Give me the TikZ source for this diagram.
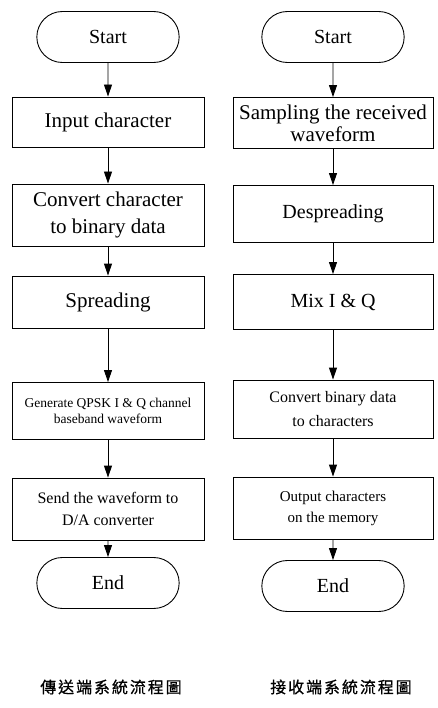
\documentclass[tikz,border=0pt]{standalone}
\usepackage{fontspec}
\setmainfont{Liberation Serif}
\newfontfamily\cjk[FakeBold=0.6,LetterSpace=12]{Noto Sans CJK TC}
\usetikzlibrary{shapes.misc,arrows.meta}

\begin{document}
\begin{tikzpicture}[
        terminal/.style={
            rounded rectangle,
            draw=black,
            minimum width=149pt,
            minimum height=51pt,
            font=\fontsize{20}{22}\selectfont,
        },
        stepbox/.style={
            rectangle,
            draw=black,
            align=center,
            inner sep=1pt,
        },
        flow/.style={
            -{Triangle[length=12pt,width=8pt]},
        },
        caption/.style={
            font=\cjk\fontsize{16}{18}\selectfont,
        },
        x=1pt, y=-1pt,
        line width=0.9pt,
    ]
    \useasboundingbox (0,0) rectangle (438,708);

    % transmitter side
    \node[terminal] (tx1) at (108, 37) {Start};
    \node[stepbox, minimum width=192pt, minimum height=50pt,
          font=\fontsize{21}{24}\selectfont] (tx2) at (108, 122) {Input character};
    \node[stepbox, minimum width=192pt, minimum height=62pt,
          font=\fontsize{21}{27}\selectfont] (tx3) at (108, 215) {Convert character\\to binary data};
    \node[stepbox, minimum width=192pt, minimum height=52pt,
          font=\fontsize{21}{24}\selectfont] (tx4) at (108, 302) {Spreading};
    \node[stepbox, minimum width=192pt, minimum height=57pt,
          font=\fontsize{13.5}{16}\selectfont] (tx5) at (108, 411) {Generate QPSK I \& Q channel\\baseband waveform};
    \node[stepbox, minimum width=192pt, minimum height=62pt,
          font=\fontsize{16}{22}\selectfont] (tx6) at (108, 509) {Send the waveform to\\D/A converter};
    \node[terminal] (tx7) at (108, 583) {End};

    \draw[flow] (tx1) -- (tx2);
    \draw[flow] (tx2) -- (tx3);
    \draw[flow] (tx3) -- (tx4);
    \draw[flow] (tx4) -- (tx5);
    \draw[flow] (tx5) -- (tx6);
    \draw[flow] (tx6) -- (tx7);

    % receiver side
    \node[terminal] (rx1) at (333, 37) {Start};
    \node[stepbox, minimum width=200pt, minimum height=51pt,
          font=\fontsize{21}{22}\selectfont] (rx2) at (333, 123) {Sampling the received\\waveform};
    \node[stepbox, minimum width=200pt, minimum height=57pt,
          font=\fontsize{20}{24}\selectfont] (rx3) at (333, 214) {Despreading};
    \node[stepbox, minimum width=200pt, minimum height=55pt,
          font=\fontsize{20}{24}\selectfont] (rx4) at (333, 302) {Mix I \& Q};
    \node[stepbox, minimum width=200pt, minimum height=58pt,
          font=\fontsize{16}{24}\selectfont] (rx5) at (333, 409) {Convert binary data\\to characters};
    \node[stepbox, minimum width=200pt, minimum height=62pt,
          font=\fontsize{15}{21}\selectfont] (rx6) at (333, 508) {Output characters\\on the memory};
    \node[terminal] (rx7) at (333, 586) {End};

    \draw[flow] (rx1) -- (rx2);
    \draw[flow] (rx2) -- (rx3);
    \draw[flow] (rx3) -- (rx4);
    \draw[flow] (rx4) -- (rx5);
    \draw[flow] (rx5) -- (rx6);
    \draw[flow] (rx6) -- (rx7);

    \node[caption] (txcap) at (111, 687) {傳送端系統流程圖};
    \node[caption] (rxcap) at (341, 687) {接收端系統流程圖};

\end{tikzpicture}
\end{document}
